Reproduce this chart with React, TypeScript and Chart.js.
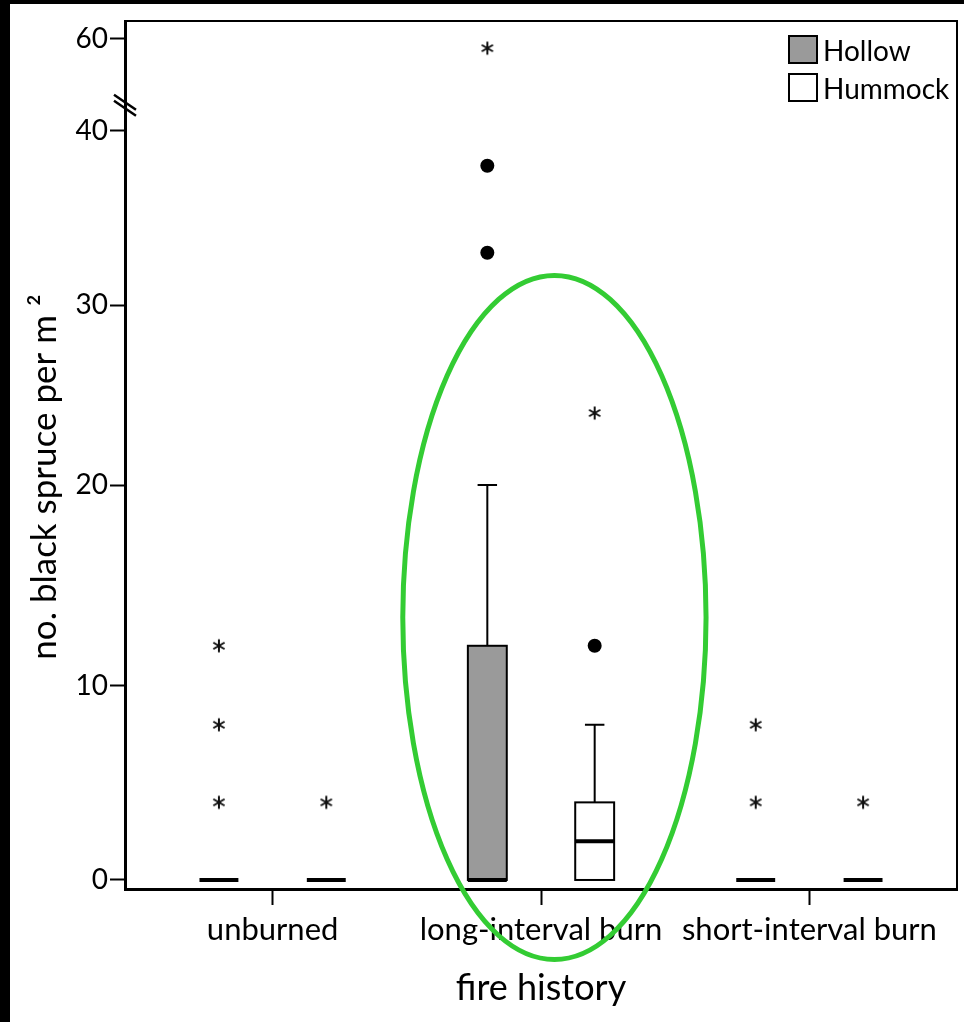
import React, { useEffect, useRef } from 'react';
import { Chart, registerables, LinearScale } from 'chart.js';

Chart.register(...registerables);

// ---------- data ----------
const CATEGORIES = ['unburned', 'long-interval burn', 'short-interval burn'];
const SERIES = ['Hollow', 'Hummock'];

const HOLLOW_MIN = [0, 0, 0];
const HOLLOW_Q1 = [0, 0, 0];
const HOLLOW_MEDIAN = [0, 0, 0];
const HOLLOW_Q3 = [0, 12, 0];
const HOLLOW_MAX = [0, 20, 0];
const HOLLOW_OUTLIERS = [[], [33, 38], []];
const HOLLOW_EXTREMES = [[4, 8, 12], [58], [4, 8]];

const HUMMOCK_MIN = [0, 0, 0];
const HUMMOCK_Q1 = [0, 0, 0];
const HUMMOCK_MEDIAN = [0, 2, 0];
const HUMMOCK_Q3 = [0, 4, 0];
const HUMMOCK_MAX = [0, 8, 0];
const HUMMOCK_OUTLIERS = [[], [12], []];
const HUMMOCK_EXTREMES = [[4], [24], [4]];

const Y_TICKS = [0, 10, 20, 30, 40, 60];

// ---------- broken y axis (piecewise, break between 40 and 60) ----------
const Y_KNOT_VALUES = [0, 10, 20, 30, 40, 60];
const Y_KNOT_FRACTIONS = [0.0104, 0.2339, 0.4654, 0.6728, 0.8733, 0.9793];
const Y_BREAK_MARK = 45.5;

class BrokenLinearScale extends LinearScale {
  static id = 'brokenLinear';
  static defaults = LinearScale.defaults;
  buildTicks() {
    return Y_TICKS.map((v) => ({ value: v }));
  }
  valueToDecimal(v: number) {
    const vs = Y_KNOT_VALUES, fs = Y_KNOT_FRACTIONS;
    let i = 0;
    while (i < vs.length - 2 && v > vs[i + 1]) i++;
    return fs[i] + ((v - vs[i]) * (fs[i + 1] - fs[i])) / (vs[i + 1] - vs[i]);
  }
  decimalToValue(d: number) {
    const vs = Y_KNOT_VALUES, fs = Y_KNOT_FRACTIONS;
    let i = 0;
    while (i < fs.length - 2 && d > fs[i + 1]) i++;
    return vs[i] + ((d - fs[i]) * (vs[i + 1] - vs[i])) / (fs[i + 1] - fs[i]);
  }
  getPixelForValue(value: any) {
    if (value === null || value === undefined || isNaN(value)) return NaN;
    return this.getPixelForDecimal(this.valueToDecimal(+value));
  }
  getValueForPixel(pixel: number) {
    return this.decimalToValue(this.getDecimalForPixel(pixel));
  }
}
Chart.register(BrokenLinearScale);

// ---------- layout / style config ----------
const GROUP_OFFSETS = [-0.2, 0.2];
const BOX_WIDTH = 0.145;
const FILLS = ['#9a9a9a', '#ffffff'];
const FONT = 'Lato';
const HIGHLIGHT = { x: 2.05, xRadius: 0.565, yTop: 31.7, yBottom: -4.1 };

const STATS = [
  { min: HOLLOW_MIN, q1: HOLLOW_Q1, med: HOLLOW_MEDIAN, q3: HOLLOW_Q3, max: HOLLOW_MAX },
  { min: HUMMOCK_MIN, q1: HUMMOCK_Q1, med: HUMMOCK_MEDIAN, q3: HUMMOCK_Q3, max: HUMMOCK_MAX },
];

function makeAsterisk() {
  const c = document.createElement('canvas');
  c.width = 16;
  c.height = 16;
  const g = c.getContext('2d')!;
  g.strokeStyle = '#111';
  g.lineWidth = 2;
  g.lineCap = 'butt';
  const r = 6.5;
  for (let k = 0; k < 3; k++) {
    const a = Math.PI / 2 + (k * Math.PI) / 3;
    g.beginPath();
    g.moveTo(8 - r * Math.cos(a), 8 - r * Math.sin(a));
    g.lineTo(8 + r * Math.cos(a), 8 + r * Math.sin(a));
    g.stroke();
  }
  return c;
}

function points(lists: number[][], s: number) {
  const out: { x: number; y: number }[] = [];
  lists.forEach((vals, i) => vals.forEach((v) => out.push({ x: i + 1 + GROUP_OFFSETS[s], y: v })));
  return out;
}

const boxPlugin = {
  id: 'boxes',
  beforeDraw(chart: any) {
    const { ctx, width, height } = chart;
    ctx.save();
    ctx.fillStyle = '#ffffff';
    ctx.fillRect(0, 0, width, height);
    ctx.fillStyle = '#000000';
    ctx.fillRect(0, 0, 10, height);
    ctx.fillRect(0, 0, width, 4);
    ctx.restore();
  },
  afterDatasetsDraw(chart: any) {
    const { ctx, scales } = chart;
    const xs = scales.x, ys = scales.y;
    const boxW = xs.getPixelForValue(BOX_WIDTH) - xs.getPixelForValue(0);
    ctx.save();
    ctx.strokeStyle = '#000';
    CATEGORIES.forEach((_, i) => {
      STATS.forEach((st, s) => {
        const cx = xs.getPixelForValue(i + 1 + GROUP_OFFSETS[s]);
        const l = cx - boxW / 2;
        const yq1 = ys.getPixelForValue(st.q1[i]);
        const yq3 = ys.getPixelForValue(st.q3[i]);
        const ymed = ys.getPixelForValue(st.med[i]);
        const ymax = ys.getPixelForValue(st.max[i]);
        const ymin = ys.getPixelForValue(st.min[i]);
        ctx.lineWidth = 2;
        if (st.max[i] > st.q3[i]) {
          ctx.beginPath();
          ctx.moveTo(cx, yq3);
          ctx.lineTo(cx, ymax);
          ctx.moveTo(cx - boxW / 4, ymax);
          ctx.lineTo(cx + boxW / 4, ymax);
          ctx.stroke();
        }
        if (st.min[i] < st.q1[i]) {
          ctx.beginPath();
          ctx.moveTo(cx, yq1);
          ctx.lineTo(cx, ymin);
          ctx.moveTo(cx - boxW / 4, ymin);
          ctx.lineTo(cx + boxW / 4, ymin);
          ctx.stroke();
        }
        if (st.q3[i] > st.q1[i]) {
          ctx.fillStyle = FILLS[s];
          ctx.fillRect(l, yq3, boxW, yq1 - yq3);
          ctx.strokeRect(l, yq3, boxW, yq1 - yq3);
        }
        ctx.lineWidth = 4;
        ctx.beginPath();
        ctx.moveTo(l, ymed);
        ctx.lineTo(l + boxW, ymed);
        ctx.stroke();
      });
    });
    ctx.restore();
  },
  afterDraw(chart: any) {
    const { ctx, scales, chartArea } = chart;
    const xs = scales.x, ys = scales.y;
    ctx.save();
    // frame (top & right)
    ctx.strokeStyle = '#000';
    ctx.lineWidth = 2;
    ctx.beginPath();
    ctx.moveTo(chartArea.left, chartArea.top);
    ctx.lineTo(chartArea.right, chartArea.top);
    ctx.lineTo(chartArea.right, chartArea.bottom);
    ctx.stroke();
    // axis break marks
    const by = ys.getPixelForValue(Y_BREAK_MARK);
    const bx = chartArea.left;
    ctx.lineWidth = 2.5;
    [-3, 3].forEach((d) => {
      ctx.beginPath();
      ctx.moveTo(bx - 11, by + d - 8);
      ctx.lineTo(bx + 11, by + d + 7);
      ctx.stroke();
    });
    // legend
    ctx.font = `28px ${FONT}`;
    ctx.textBaseline = 'middle';
    ctx.textAlign = 'left';
    SERIES.forEach((name, s) => {
      const top = chartArea.top + 15 + s * 38;
      ctx.fillStyle = FILLS[s];
      ctx.fillRect(chartArea.left + 664, top, 28, 27);
      ctx.lineWidth = 2;
      ctx.strokeStyle = '#000';
      ctx.strokeRect(chartArea.left + 664, top, 28, 27);
      ctx.fillStyle = '#000';
      ctx.fillText(name, chartArea.left + 698, top + 16);
    });
    // y axis title
    ctx.save();
    ctx.translate(45, (chartArea.top + chartArea.bottom) / 2 + 22);
    ctx.rotate(-Math.PI / 2);
    ctx.textAlign = 'center';
    ctx.textBaseline = 'middle';
    ctx.font = `35px ${FONT}`;
    ctx.fillStyle = '#000';
    ctx.fillText('no. black spruce per m \u00B2', 0, 0);
    ctx.restore();
    // highlight ellipse
    const cx = xs.getPixelForValue(HIGHLIGHT.x);
    const rx = xs.getPixelForValue(HIGHLIGHT.x + HIGHLIGHT.xRadius) - cx;
    const yt = ys.getPixelForValue(HIGHLIGHT.yTop);
    const yb = ys.getPixelForValue(HIGHLIGHT.yBottom);
    ctx.strokeStyle = '#33cc33';
    ctx.lineWidth = 5;
    ctx.beginPath();
    ctx.ellipse(cx, (yt + yb) / 2, rx, (yb - yt) / 2, 0, 0, Math.PI * 2);
    ctx.stroke();
    ctx.restore();
  },
};

export default function App() {
  const ref = useRef<HTMLCanvasElement>(null);
  useEffect(() => {
    let chart: Chart | null = null;
    let cancelled = false;
    const build = () => {
      if (cancelled || !ref.current) return;
      const star = makeAsterisk();
      chart = new Chart(ref.current, {
        type: 'scatter',
        data: {
          datasets: [
            ...SERIES.map((name, s) => ({
              label: name + ' outliers',
              data: points(s === 0 ? HOLLOW_OUTLIERS : HUMMOCK_OUTLIERS, s),
              pointStyle: 'circle',
              pointRadius: 7,
              backgroundColor: '#000',
              borderWidth: 0,
            })),
            ...SERIES.map((name, s) => ({
              label: name + ' extremes',
              data: points(s === 0 ? HOLLOW_EXTREMES : HUMMOCK_EXTREMES, s),
              pointStyle: star,
              pointRadius: 7,
              backgroundColor: '#000',
              borderWidth: 0,
            })),
          ],
        },
        options: {
          responsive: false,
          animation: false,
          events: [],
          devicePixelRatio: 1,
          layout: { padding: { top: 21, right: 2, left: 0, bottom: 0 } },
          plugins: { legend: { display: false }, tooltip: { enabled: false } },
          scales: {
            x: {
              type: 'linear',
              min: 0.45,
              max: 3.55,
              afterFit: (sc: any) => { sc.height = 133; },
              afterBuildTicks: (sc: any) => { sc.ticks = CATEGORIES.map((_, i) => ({ value: i + 1 })); },
              ticks: {
                autoSkip: false,
                maxRotation: 0,
                padding: 6,
                color: '#000',
                font: { family: FONT, size: 31 },
                callback: (_v: any, i: number) => CATEGORIES[i],
              },
              grid: { display: true, drawOnChartArea: false, drawTicks: true, tickLength: 16, tickWidth: 2, color: '#000' },
              border: { display: true, width: 3, color: '#000' },
              title: { display: true, text: 'fire history', color: '#000', font: { family: FONT, size: 36 }, padding: { top: 0, bottom: 12 } },
            },
            y: {
              type: 'brokenLinear',
              min: -0.5,
              max: 64,
              afterFit: (sc: any) => { sc.width = 125; },
              ticks: {
                autoSkip: false,
                padding: 2,
                color: '#000',
                font: { family: FONT, size: 28 },
                callback: (v: any) => String(v),
              },
              grid: { display: true, drawOnChartArea: false, drawTicks: true, tickLength: 15, tickWidth: 2, color: '#000' },
              border: { display: true, width: 3, color: '#000' },
            },
          },
        },
        plugins: [boxPlugin],
      } as any);
    };
    const fonts: any = (document as any).fonts;
    if (fonts && fonts.load) {
      Promise.all([fonts.load(`26px ${FONT}`)]).then(build, build);
    } else build();
    return () => {
      cancelled = true;
      if (chart) chart.destroy();
    };
  }, []);
  return (
    <div style={{ position: 'fixed', left: 0, top: 0, width: 964, height: 1022, background: '#fff' }}>
      <canvas ref={ref} width={964} height={1022} style={{ display: 'block', width: 964, height: 1022 }} />
    </div>
  );
}
